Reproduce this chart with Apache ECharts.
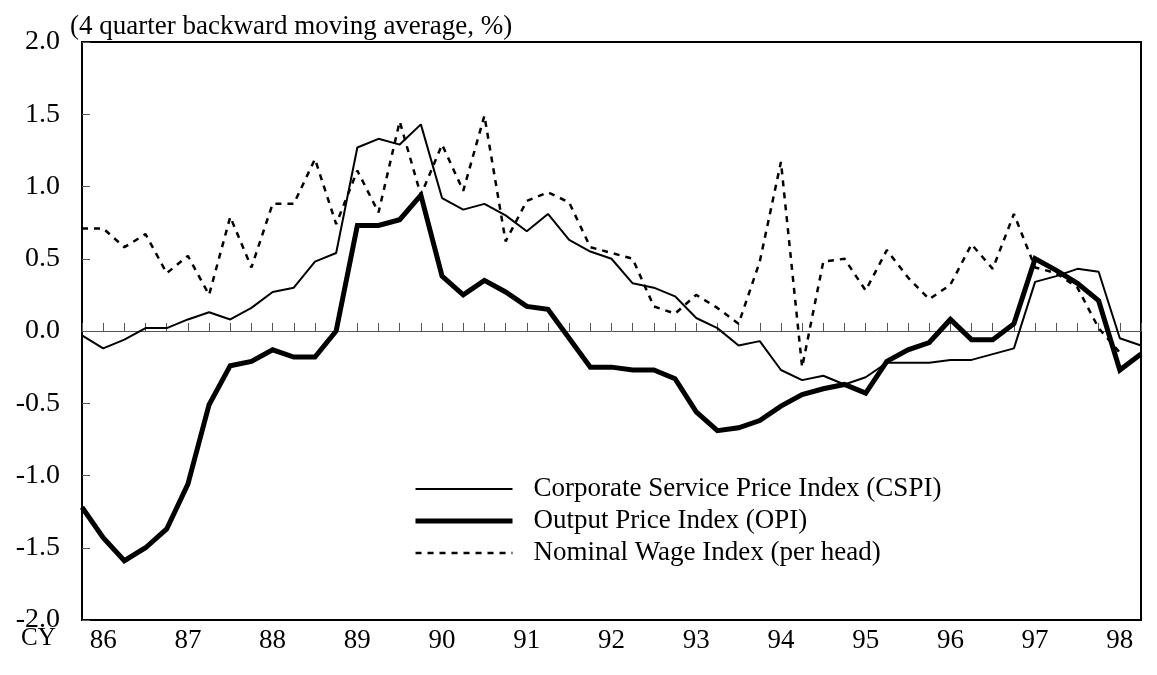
<!DOCTYPE html>
<html>
<head>
<meta charset="utf-8">
<script src="https://cdn.jsdelivr.net/npm/echarts@6/dist/echarts.min.js"></script>
<style>
html, body { margin: 0; padding: 0; background: #fff; }
#chart { width: 1157px; height: 675px; }
</style>
</head>
<body>
<div id="chart"></div>
<script>
// quarterly points, 51 of them
const quarters = [];
for (let i = 0; i < 51; i++) quarters.push('Q' + i);

// year text under the quarter ticks
const yearLabels = ['', '86', '', '', '', '87', '', '', '', '88', '', '', '', '89', '', '', '', '90', '', '',
  '', '91', '', '', '', '92', '', '', '', '93', '', '', '', '94', '', '', '', '95', '', '',
  '', '96', '', '', '', '97', '', '', '', '98', ''];

const cspi = [-0.03, -0.12, -0.06, 0.02, 0.02, 0.08, 0.13, 0.08, 0.16, 0.27, 0.30, 0.48, 0.54, 1.27, 1.33, 1.29, 1.43,
  0.92, 0.84, 0.88, 0.80, 0.69, 0.81, 0.63, 0.55, 0.50, 0.33, 0.30, 0.24, 0.09, 0.02, -0.10, -0.07, -0.27, -0.34,
  -0.31, -0.37, -0.32, -0.22, -0.22, -0.22, -0.20, -0.20, -0.16, -0.12, 0.34, 0.38, 0.43, 0.41, -0.05, -0.10];

const opi = [-1.22, -1.43, -1.59, -1.50, -1.37, -1.06, -0.51, -0.24, -0.21, -0.13, -0.18, -0.18, 0.00, 0.73, 0.73, 0.77, 0.94,
  0.38, 0.25, 0.35, 0.27, 0.17, 0.15, -0.05, -0.25, -0.25, -0.27, -0.27, -0.33, -0.56, -0.69, -0.67, -0.62, -0.52, -0.44,
  -0.40, -0.37, -0.43, -0.21, -0.13, -0.08, 0.08, -0.06, -0.06, 0.05, 0.50, 0.42, 0.33, 0.21, -0.27, -0.16];

const wage = [0.71, 0.71, 0.58, 0.67, 0.40, 0.52, 0.25, 0.79, 0.44, 0.88, 0.88, 1.19, 0.74, 1.11, 0.82, 1.45, 0.94,
  1.29, 0.97, 1.49, 0.62, 0.90, 0.96, 0.89, 0.58, 0.54, 0.50, 0.17, 0.12, 0.25, 0.16, 0.05, 0.48, 1.17, -0.25,
  0.48, 0.50, 0.28, 0.56, 0.37, 0.22, 0.32, 0.60, 0.43, 0.81, 0.44, 0.40, 0.30, 0.02, -0.15, null];

const names = ['Corporate Service Price Index (CSPI)', 'Output Price Index (OPI)', 'Nominal Wage Index (per head)'];

const font = '"Liberation Serif", "Times New Roman", serif';

const chart = echarts.init(document.getElementById('chart'));

const option = {
  animation: false,
  backgroundColor: '#fff',
  textStyle: { fontFamily: font, color: '#000' },
  title: {
    text: '(4 quarter backward moving average, %)',
    left: 70,
    top: 13,
    padding: 0,
    textStyle: { fontFamily: font, fontSize: 27, fontWeight: 'normal', color: '#000' }
  },
  grid: {
    left: 82, right: 16, top: 42, bottom: 55,
    show: true, borderColor: '#000', borderWidth: 2, backgroundColor: 'transparent'
  },
  legend: {
    orient: 'vertical',
    left: 413,
    top: 475,
    padding: 0,
    itemWidth: 97,
    itemHeight: 14,
    itemGap: 4,
    itemStyle: { color: 'transparent', borderWidth: 0, opacity: 0 },
    textStyle: { fontFamily: font, fontSize: 27, lineHeight: 28, color: '#000', padding: [0, 0, 0, 16] },
    data: [
      { name: names[0], lineStyle: { width: 2 } },
      { name: names[1], lineStyle: { width: 5 } },
      { name: names[2], lineStyle: { width: 2.5, type: [6, 6] } }
    ]
  },
  xAxis: [
    {
      type: 'category',
      data: quarters,
      boundaryGap: false,
      axisLine: { onZero: true, lineStyle: { color: '#555', width: 1 } },
      axisTick: { inside: true, length: 8, interval: 0, lineStyle: { color: '#555', width: 1 } },
      axisLabel: { show: false },
      splitLine: { show: false }
    },
    {
      type: 'category',
      position: 'bottom',
      data: yearLabels,
      boundaryGap: false,
      axisLine: { show: false, onZero: false },
      axisTick: { show: false },
      axisLabel: { interval: 0, margin: 7, fontFamily: font, fontSize: 27, color: '#000' },
      splitLine: { show: false }
    }
  ],
  yAxis: {
    type: 'value',
    min: -2,
    max: 2,
    interval: 0.5,
    axisLine: { show: true, lineStyle: { color: '#000', width: 2 } },
    axisTick: { show: true, inside: true, length: 8, lineStyle: { color: '#555', width: 1 } },
    axisLabel: {
      margin: 22,
      fontFamily: font,
      fontSize: 28,
      color: '#000',
      formatter: v => v.toFixed(1)
    },
    splitLine: { show: false }
  },
  graphic: [
    {
      type: 'text',
      left: 21,
      top: 626,
      style: { text: 'CY', font: '25px ' + font, fill: '#000' }
    }
  ],
  series: [
    {
      name: names[0],
      type: 'line',
      data: cspi,
      symbol: 'none',
      lineStyle: { color: '#000', width: 2 },
      itemStyle: { color: '#000' }
    },
    {
      name: names[1],
      type: 'line',
      data: opi,
      symbol: 'none',
      lineStyle: { color: '#000', width: 5, join: 'miter' },
      itemStyle: { color: '#000' }
    },
    {
      name: names[2],
      type: 'line',
      data: wage,
      symbol: 'none',
      lineStyle: { color: '#000', width: 2.5, type: [6, 6] },
      itemStyle: { color: '#000' }
    }
  ]
};

chart.setOption(option);
</script>
</body>
</html>
